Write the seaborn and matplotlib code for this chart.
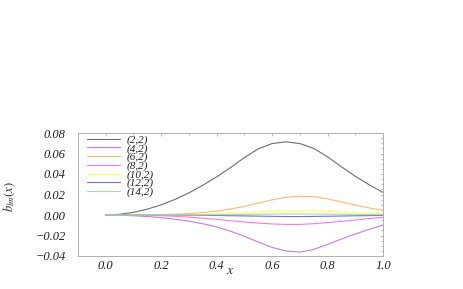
import numpy as np
import pandas as pd
import matplotlib
matplotlib.use("Agg")
import matplotlib.pyplot as plt
import seaborn as sns
from matplotlib.ticker import MultipleLocator

# ---- data ----
x = [0.00, 0.05, 0.10, 0.15, 0.20, 0.25, 0.30, 0.35, 0.40, 0.45, 0.50,
     0.55, 0.60, 0.65, 0.70, 0.75, 0.80, 0.85, 0.90, 0.95, 1.00]
b22 = [0.0, 0.0007, 0.0026, 0.0057, 0.0099, 0.0152, 0.0216, 0.0290, 0.0372, 0.0462, 0.0560,
       0.0645, 0.0697, 0.0714, 0.0697, 0.0650, 0.0568, 0.0470, 0.0378, 0.0295, 0.0220]
b42 = [0.0, -0.0002, -0.0007, -0.0015, -0.0026, -0.0041, -0.0060, -0.0085, -0.0117, -0.0158, -0.0208,
       -0.0263, -0.0316, -0.0351, -0.0362, -0.0336, -0.0287, -0.0235, -0.0186, -0.0140, -0.0099]
b62 = [0.0, 0.0, 0.0001, 0.0002, 0.0004, 0.0008, 0.0014, 0.0024, 0.0038, 0.0058, 0.0084,
       0.0116, 0.0148, 0.0172, 0.0184, 0.0178, 0.0157, 0.0128, 0.0097, 0.0069, 0.0046]
b82 = [0.0, 0.0, -0.0001, -0.0003, -0.0007, -0.0013, -0.0021, -0.0031, -0.0043, -0.0056, -0.0068,
       -0.0079, -0.0087, -0.0092, -0.0092, -0.0085, -0.0074, -0.0062, -0.0049, -0.0035, -0.0023]
b102 = [0.0, 0.0, 0.0, 0.0, 0.0001, 0.0002, 0.0004, 0.0007, 0.0011, 0.0016, 0.0022,
        0.0029, 0.0035, 0.0040, 0.0042, 0.0040, 0.0035, 0.0029, 0.0023, 0.0017, 0.0012]
b122 = [0.0, 0.0, 0.0, 0.0, -0.0001, -0.0001, -0.0002, -0.0003, -0.0005, -0.0007, -0.0009,
        -0.0011, -0.0013, -0.0015, -0.0015, -0.0014, -0.0012, -0.0010, -0.0008, -0.0006, -0.0004]
b142 = [0.0, 0.0, 0.0, 0.0, 0.0, 0.0001, 0.0001, 0.0002, 0.0003, 0.0004, 0.0006,
        0.0007, 0.0009, 0.0010, 0.0010, 0.0009, 0.0008, 0.0007, 0.0005, 0.0004, 0.0003]
series_names = ["(2,2)", "(4,2)", "(6,2)", "(8,2)", "(10,2)", "(12,2)", "(14,2)"]
series_vals = [b22, b42, b62, b82, b102, b122, b142]
colors = ["#6e6e6e", "#c27cf0", "#ffb870", "#ff78e0", "#ffff5a", "#6f6ff5", "#a8dca0"]

xticks = [0.0, 0.2, 0.4, 0.6, 0.8, 1.0]
xticklabels = ["0.0", "0.2", "0.4", "0.6", "0.8", "1.0"]
yticks = [-0.04, -0.02, 0.00, 0.02, 0.04, 0.06, 0.08]
yticklabels = ["\u22120.04", "\u22120.02", "0.00", "0.02", "0.04", "0.06", "0.08"]

df = pd.DataFrame({
    "x": np.tile(x, len(series_names)),
    "b": np.concatenate(series_vals),
    "series": np.repeat(series_names, len(x)),
})

sns.set_style("white")
plt.rcParams["font.family"] = ["Liberation Serif", "DejaVu Serif"]
plt.rcParams["mathtext.fontset"] = "stix"

fig = plt.figure(figsize=(4.63, 2.89), dpi=100)
ax = fig.add_axes([78 / 463, 1 - 256 / 289, 305 / 463, 123 / 289])

sns.lineplot(data=df, x="x", y="b", hue="series", hue_order=series_names,
             palette=colors, linewidth=0.8, ax=ax, legend=True)

ax.set_xlim(-0.1, 1.0)
ax.set_ylim(-0.04, 0.08)
ax.set_xticks(xticks)
ax.set_xticklabels(xticklabels, fontstyle="italic", fontsize=9)
ax.set_yticks(yticks)
ax.set_yticklabels(yticklabels, fontstyle="italic", fontsize=9)
ax.xaxis.set_minor_locator(MultipleLocator(0.1))
ax.yaxis.set_minor_locator(MultipleLocator(0.005))
ax.tick_params(which="both", direction="in", top=True, right=True,
               color="#a0a0a0", width=0.5, labelcolor="#202020")
ax.tick_params(which="major", length=2.5, pad=3)
ax.tick_params(which="minor", length=1.5)
ax.tick_params(axis="y", which="major", pad=9)
for s in ax.spines.values():
    s.set_color("#b0b0b0")
    s.set_linewidth(0.7)

ax.set_xlabel("")
ax.set_ylabel("")
fig.text(230 / 463, 1 - 271 / 289, "$x$", ha="center", va="center", fontsize=10)
fig.text(9 / 463, 1 - 197 / 289, "$b_{lm}(x)$", ha="center", va="center",
         rotation=90, fontsize=9)

leg = ax.legend(loc="upper left", bbox_to_anchor=(0.028, 0.985), frameon=False,
                handlelength=3.0, handletextpad=0.65,
                labelspacing=-0.12, borderpad=0, borderaxespad=0,
                prop={"style": "italic", "size": 8})
for t in leg.get_texts():
    t.set_color("#202020")

fig.savefig("out.png", dpi=100)
